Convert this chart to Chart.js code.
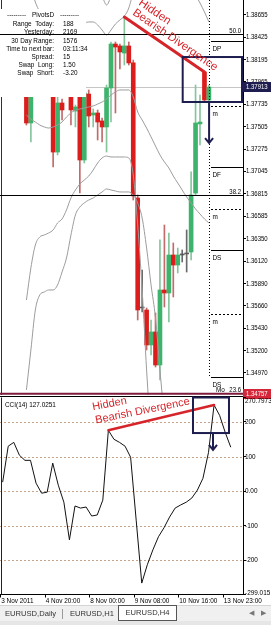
<!DOCTYPE html>
<html><head><meta charset="utf-8">
<script src="https://cdn.jsdelivr.net/npm/chart.js@4.4.1/dist/chart.umd.min.js"></script>
<style>
html,body{margin:0;padding:0;background:#fff;}
#wrap{position:relative;width:271px;height:625px;overflow:hidden;background:#fff;font-family:"Liberation Sans",Arial,sans-serif;}
#main{position:absolute;left:0;top:0;width:271px;height:400px;}
#cci{position:absolute;left:0;top:386px;width:271px;height:220px;}
#tabs{position:absolute;left:0;top:605px;width:271px;height:15px;background:#f0f0f0;border-top:1px solid #d4d4d4;}
.t{position:absolute;top:3px;font-size:7.6px;line-height:9px;color:#333;white-space:nowrap;}
.act{top:-1px;height:14px;line-height:14px;background:#fff;border:1px solid #555;text-align:center;}
.sep{position:absolute;top:3px;width:1px;height:10px;background:#9a9a9a;}
.arr{color:#777;font-family:"DejaVu Sans",sans-serif;font-size:7px;}
#status{position:absolute;left:0;top:621px;width:271px;height:4px;background:#e6e6e6;}
</style></head><body>
<div id="wrap">
<canvas id="main" width="271" height="400"></canvas>
<canvas id="cci" width="271" height="220"></canvas>
<div id="tabs">
 <div class="t" style="left:5px">EURUSD,Daily</div>
 <div class="sep" style="left:62px"></div>
 <div class="t" style="left:70px">EURUSD,H1</div>
 <div class="t act" style="left:118px;width:57px">EURUSD,H4</div>
 <div class="t arr" style="left:249px">◀</div>
 <div class="t arr" style="left:261px">▶</div>
</div>
<div id="status"></div>
</div>
<script>
// ---------------- DATA ----------------
const barTimes = ['3 Nov 12:00','3 Nov 16:00','3 Nov 20:00','4 Nov 00:00','4 Nov 04:00','4 Nov 08:00','4 Nov 12:00','4 Nov 16:00','4 Nov 20:00','6 Nov 23:00','7 Nov 00:00','7 Nov 04:00','7 Nov 08:00','7 Nov 12:00','7 Nov 16:00','7 Nov 20:00','8 Nov 00:00','8 Nov 04:00','8 Nov 08:00','8 Nov 12:00','8 Nov 16:00','8 Nov 20:00','9 Nov 00:00','9 Nov 04:00','9 Nov 08:00','9 Nov 12:00','9 Nov 16:00','9 Nov 20:00','10 Nov 00:00','10 Nov 04:00','10 Nov 08:00','10 Nov 12:00','10 Nov 16:00','10 Nov 20:00','11 Nov 00:00','11 Nov 04:00','11 Nov 08:00','11 Nov 12:00','11 Nov 16:00','11 Nov 20:00','13 Nov 23:00','14 Nov 00:00'];

const openP  = [1.37934,1.37543,1.37862,1.38088,1.38191,1.38037,1.37903,1.37244,1.37749,1.37841,1.37883,1.37666,1.37862,1.37162,1.37841,1.37625,1.37646,1.37564,1.37502,1.37903,1.38356,1.38336,1.38263,1.38336,1.38161,1.36771,1.35639,1.35618,1.35258,1.35392,1.35052,1.35824,1.35793,1.36184,1.36081,1.36184,1.36195,1.36215,1.36822,1.37533,1.38068,1.37780];
const highP  = [1.37986,1.37934,1.38171,1.38294,1.38243,1.38088,1.37944,1.37811,1.37790,1.37924,1.37924,1.37728,1.37903,1.37903,1.37883,1.37687,1.37677,1.37594,1.37934,1.38377,1.38377,1.38356,1.38634,1.38377,1.38191,1.36802,1.36030,1.35639,1.35515,1.35587,1.36339,1.36493,1.36411,1.36308,1.36256,1.36236,1.36442,1.37039,1.37934,1.37831,1.38068,1.37934];
const lowP   = [1.37522,1.37347,1.37831,1.38006,1.37934,1.37841,1.37090,1.37214,1.37574,1.37821,1.37522,1.37502,1.36822,1.37131,1.37502,1.37502,1.37368,1.37347,1.37244,1.37553,1.37646,1.38099,1.38140,1.38140,1.36750,1.35515,1.35598,1.35206,1.35155,1.35031,1.34898,1.35649,1.35495,1.35752,1.35999,1.36112,1.36009,1.36133,1.36802,1.37317,1.37759,1.37759];
const closeP = [1.37543,1.37883,1.38088,1.38191,1.38037,1.37903,1.37244,1.37749,1.37677,1.37883,1.37677,1.37708,1.37162,1.37852,1.37615,1.37646,1.37553,1.37502,1.37903,1.38356,1.38325,1.38274,1.38336,1.38161,1.36792,1.35618,1.35649,1.35258,1.35392,1.35052,1.35824,1.35793,1.36184,1.36081,1.36184,1.36195,1.36205,1.36802,1.37543,1.37553,1.37780,1.37913];

const bbMiddle = [1.37625,1.37584,1.37553,1.37522,1.37502,1.37491,1.37502,1.37522,1.37553,1.37605,1.37646,1.37677,1.37687,1.37697,1.37708,1.37718,1.37738,1.37759,1.37790,1.37831,1.37862,1.37883,1.37883,1.37883,1.37811,1.37656,1.37574,1.37491,1.37399,1.37306,1.37214,1.37142,1.37080,1.36997,1.36925,1.36853,1.36781,1.36720,1.36658,1.36606,1.36555,1.36514];
const bbUpperInner = [1.39118,1.38933,1.38788,1.38686,1.38624,1.38583,1.38583,1.38583,1.38583,1.38552,1.38521,1.38531,1.38552,1.38572,1.38583,1.38583,1.38552,1.38500,1.38449,1.38500,1.38562,1.38603,1.38644,1.38727,1.38912,1.39221,null,null,null,null,null,null,null,null,null,null,null,null,1.38860,1.38778,1.38686,1.38583];
const bbUpperOuter = [null,null,null,null,null,null,null,null,null,null,null,null,null,null,1.39015,1.38963,1.38933,1.38850,1.38758,1.38850,1.39015,null,null,null,null,null,null,null,null,null,null,null,null,null,null,null,null,null,null,null,null,null];
const bbLowerInner = [1.35721,1.36051,1.36287,1.36370,1.36390,1.36411,1.36442,1.36514,1.36555,1.36648,1.36771,1.36853,1.36915,1.36956,1.36997,1.37059,1.37131,1.37183,1.37203,1.37193,1.37193,1.37193,1.37193,1.37183,1.37008,1.36493,1.35824,1.35001,1.34280,null,null,null,null,null,null,null,null,null,null,null,null,null];
const bbLowerOuter = [1.34795,1.35206,1.35618,1.35773,1.35803,1.35824,1.35824,1.35876,1.36009,1.36153,1.36390,1.36596,1.36678,1.36720,1.36750,1.36771,1.36802,1.36833,1.36864,1.36853,1.36843,1.36833,1.36833,1.36833,1.36802,1.36720,1.36565,1.36256,1.35876,1.35536,1.35001,1.34486,null,null,null,null,null,null,null,null,null,null];

const cciValues = [26,130,141,104,89,89,23,-6,-3,81,17,-32,-141,-43,-49,-46,-72,-69,-26,176,150,141,130,98,-84,-266,-213,-170,-132,-106,-75,-49,-40,-32,-20,3,37,112,249,219,170,127.0251];

const priceTicks = [1.38655,1.38425,1.38195,1.37965,1.37735,1.37505,1.37275,1.37045,1.36815,1.36585,1.36350,1.36120,1.35890,1.35660,1.35430,1.35200,1.34970];
const priceTickLabels = ['1.38655','1.38425','1.38195','1.37965','1.37735','1.37505','1.37275','1.37045','1.36815','1.36585','1.36350','1.36120','1.35890','1.35660','1.35430','1.35200','1.34970'];
const cciTicks = [270.7973,200,100,0,-100,-200,-299.015];
const cciTickLabels = ['270.7973','200','100','0.00','-100','-200','-299.015'];
const cciLevels = [200,100,0,-100,-200];
const dateTickIdx = [0,8,16,24,32,40];
const dateTickLabels = ['3 Nov 2011','4 Nov 20:00','8 Nov 00:00','9 Nov 08:00','10 Nov 16:00','13 Nov 23:00'];

const fibPrices = [1.38459,1.36805,1.34757];
const fibLabels = ['50.0','38.2','23.6'];
const pivotPrices = [1.38387,1.37718,1.37090,1.36658,1.36236,1.35577,1.34929];
const pivotLabels = ['DP','m','DF','m','DS','m','DS'];
const pivotDashed = [false,true,false,true,false,true,false];
const bidPrice = 1.37913;
const markPrice = 1.34757;

const infoLabels = ['Range  Today:','Yesterday:','30 Day Range:','Time to next bar:','Spread:','Swap  Long:','Swap  Short:'];
const infoValues = ['188','2169','1576','03:11:34','15','1.50','-3.20'];

// divergence anchors: [bar index, value]
const divPriceFrom = [22, 1.38634], divPriceTo = [40, 1.38068];
const divCciFrom = [19, 176], divCciTo = [38, 249];

const viewMin = 1.34743, viewMax = 1.38809;
const cciMin = -299.015, cciMax = 270.7973;
const X_MIN = -0.48, X_MAX = 43.2;

// ---------------- STYLE ----------------
const SX = 0.8;
const FONT = '"Liberation Sans", Arial, sans-serif';
const RED = '#d6252a', NAVY = '#1d1d4f';
const BB = '#9c9c9c';

function drawText(ctx, s, x, y, o = {}) {
  ctx.save();
  ctx.font = (o.size || 8) + 'px ' + FONT;
  ctx.fillStyle = o.color || '#000';
  ctx.textAlign = o.align || 'left';
  ctx.textBaseline = o.base || 'middle';
  ctx.translate(x, y);
  if (o.rot) ctx.rotate(o.rot);
  ctx.scale(o.sx === undefined ? SX : o.sx, 1);
  ctx.fillText(s, 0, 0);
  ctx.restore();
}
function seg(ctx, x1, y1, x2, y2, color, w, dash) {
  ctx.save();
  ctx.strokeStyle = color; ctx.lineWidth = w || 1;
  ctx.setLineDash(dash || []);
  ctx.beginPath(); ctx.moveTo(x1, y1); ctx.lineTo(x2, y2); ctx.stroke();
  ctx.restore();
}
function crisp(v) { return Math.round(v) + 0.5; }
function arrow(ctx, x, y1, y2) {
  ctx.save();
  ctx.strokeStyle = NAVY; ctx.lineWidth = 2;
  ctx.beginPath(); ctx.moveTo(x, y1); ctx.lineTo(x, y2); ctx.stroke();
  ctx.beginPath(); ctx.moveTo(x - 4, y2 - 5); ctx.lineTo(x, y2); ctx.lineTo(x + 4, y2 - 5); ctx.stroke();
  ctx.restore();
}

const pts = arr => arr.map((v, i) => ({x: i, y: v}));
const bodies = openP.map((o, i) => ({x: i, y: [o, closeP[i]]}));
const wicks = lowP.map((l, i) => ({x: i, y: [l, highP[i]]}));
const kind = openP.map((o, i) => Math.abs(closeP[i] - o) < 0.00012 ? 'd' : (closeP[i] > o ? 'u' : 'r'));
const bodyColors = kind.map(k => k === 'd' ? '#5a5a5a' : (k === 'u' ? '#3db36b' : '#dd1c1c'));
const wickColors = kind.map(k => k === 'd' ? '#6a6a6a' : (k === 'u' ? '#86c59c' : '#c36a6a'));

const lineDs = (label, arr) => ({type: 'line', label, data: pts(arr), borderColor: BB, borderWidth: 1,
  pointRadius: 0, cubicInterpolationMode: 'monotone', spanGaps: false, order: 1});

// ---------------- MAIN OVERLAY ----------------
const mainOverlay = {
  id: 'mainOverlay',
  beforeDatasetsDraw(chart) {
    const {ctx, chartArea: a, scales: {y}} = chart;
    const yb = crisp(y.getPixelForValue(bidPrice));
    seg(ctx, a.left, yb, a.right, yb, '#c6c6c6', 1);
    seg(ctx, 1.5, a.top, 1.5, a.bottom, '#3a2a34', 1);
  },
  afterDatasetsDraw(chart) {
    const {ctx, chartArea: a, scales: {x, y}} = chart;
    // info panel
    ctx.fillStyle = '#fff'; ctx.fillRect(0, 9, 86, 88);
    drawText(ctx, '---------', 7, 15);
    drawText(ctx, 'PivotsD', 32, 15);
    drawText(ctx, '---------', 60, 15);
    const rowsY = [24, 32, 41, 48.5, 56.5, 64.5, 72.5];
    infoLabels.forEach((s, k) => {
      drawText(ctx, s, 54, rowsY[k], {align: 'right'});
      drawText(ctx, infoValues[k], 63, rowsY[k]);
    });
    // fibo lines
    fibPrices.forEach((p, k) => {
      const last = k === fibPrices.length - 1;
      const yy = last ? y.getPixelForValue(p) : crisp(y.getPixelForValue(p));
      seg(ctx, a.left, yy, a.right, yy, last ? '#7e1b3d' : '#000', last ? 2 : 1);
      drawText(ctx, fibLabels[k], 241, yy - 1.5, {align: 'right', base: 'alphabetic', size: 7.5});
    });
    drawText(ctx, 'Mo', 216, y.getPixelForValue(fibPrices[2]) - 1.5, {base: 'alphabetic', size: 8});
    // pivot markers
    ctx.save();
    ctx.beginPath(); ctx.rect(a.left, a.top, a.right - a.left, a.bottom - a.top); ctx.clip();
    const vx = crisp(x.getPixelForValue(41.05));
    seg(ctx, vx, a.top, vx, y.getPixelForValue(pivotPrices[pivotPrices.length - 1]), '#000', 1, [1, 2]);
    pivotPrices.forEach((p, k) => {
      const yy = crisp(y.getPixelForValue(p));
      seg(ctx, vx + 1.5, yy, a.right, yy, '#000', 1, pivotDashed[k] ? [2, 2] : []);
      drawText(ctx, pivotLabels[k], vx + 3, yy + 9, {base: 'alphabetic', size: 8});
    });
    ctx.restore();
    // divergence line
    const x1 = x.getPixelForValue(divPriceFrom[0]), y1 = y.getPixelForValue(divPriceFrom[1]);
    const x2 = x.getPixelForValue(divPriceTo[0]), y2 = y.getPixelForValue(divPriceTo[1]);
    ctx.save(); ctx.lineCap = 'round';
    seg(ctx, x1, y1, x2, y2, RED, 3);
    ctx.restore();
    const ang = Math.atan2(y2 - y1, x2 - x1);
    // box
    const bx1 = x.getPixelForValue(35.11), bx2 = a.right - 1;
    const by1 = y.getPixelForValue(1.38222), by2 = y.getPixelForValue(1.37759);
    ctx.save(); ctx.strokeStyle = NAVY; ctx.lineWidth = 2;
    ctx.strokeRect(bx1, by1, bx2 - bx1, by2 - by1); ctx.restore();
    arrow(ctx, x.getPixelForValue(41.04), by2, y.getPixelForValue(1.37337));
    drawText(ctx, 'Hidden', x.getPixelForValue(28.82), y.getPixelForValue(1.38685), {size: 11.5, color: RED, rot: ang, align: 'center', sx: 1});
    drawText(ctx, 'Bearish Divergence', x.getPixelForValue(33.40), y.getPixelForValue(1.38397), {size: 11.5, color: RED, rot: ang, align: 'center', sx: 1});
  },
  afterDraw(chart) {
    const {ctx, chartArea: a, scales: {y}} = chart;
    priceTicks.forEach((v, k) => drawText(ctx, priceTickLabels[k], a.right + 3, y.getPixelForValue(v), {size: 7.5}));
    const yb = y.getPixelForValue(bidPrice);
    ctx.fillStyle = NAVY; ctx.fillRect(a.right, Math.round(yb) - 5, 28, 10);
    drawText(ctx, bidPrice.toFixed(5), a.right + 3, yb, {size: 7.5, color: '#fff'});
    const ym = y.getPixelForValue(markPrice);
    ctx.fillStyle = '#d4283a'; ctx.fillRect(a.right, Math.round(ym) - 5, 28, 10);
    drawText(ctx, markPrice.toFixed(5), a.right + 3, ym, {size: 7.5, color: '#fff'});
  }
};

new Chart(document.getElementById('main'), {
  type: 'bar',
  data: {
    labels: barTimes,
    datasets: [
      lineDs('BB middle', bbMiddle),
      lineDs('BB upper inner', bbUpperInner),
      lineDs('BB upper outer', bbUpperOuter),
      lineDs('BB lower inner', bbLowerInner),
      lineDs('BB lower outer', bbLowerOuter),
      {type: 'bar', label: 'body', data: bodies, backgroundColor: bodyColors, barThickness: 4, grouped: false, order: 2},
      {type: 'bar', label: 'wick', data: wicks, backgroundColor: wickColors, barThickness: 1, grouped: false, order: 3}
    ]
  },
  options: {
    responsive: false, animation: false, devicePixelRatio: 1,
    layout: {padding: {left: 0, right: 0, top: 0, bottom: 5}},
    plugins: {legend: {display: false}, tooltip: {enabled: false}},
    scales: {
      x: {type: 'linear', min: X_MIN, max: X_MAX, display: false},
      y: {
        type: 'linear', position: 'right', min: viewMin, max: viewMax,
        afterBuildTicks: s => { s.ticks = priceTicks.map(v => ({value: v})); },
        afterFit: s => { s.width = 28; s.paddingTop = 0; s.paddingBottom = 0; },
        ticks: {display: false, autoSkip: false},
        grid: {display: true, drawOnChartArea: false, drawTicks: true, tickLength: 3, color: '#000', lineWidth: 1},
        border: {display: true, color: '#000', width: 1}
      }
    }
  },
  plugins: [mainOverlay]
});

// ---------------- CCI ----------------
const cciOverlay = {
  id: 'cciOverlay',
  beforeDatasetsDraw(chart) {
    const {ctx, chartArea: a, scales: {y}} = chart;
    cciLevels.forEach(v => {
      const yy = crisp(y.getPixelForValue(v));
      seg(ctx, a.left, yy, a.right, yy, '#c7a58c', 1, [2, 2]);
    });
  },
  afterDatasetsDraw(chart) {
    const {ctx, chartArea: a, scales: {x, y}} = chart;
    seg(ctx, 0, Math.floor(a.top) - 0.5, a.right, Math.floor(a.top) - 0.5, '#000', 1);
    seg(ctx, 1.5, a.top, 1.5, a.bottom, '#222', 1);
    const x1 = x.getPixelForValue(divCciFrom[0]), y1 = y.getPixelForValue(divCciFrom[1]);
    const x2 = x.getPixelForValue(divCciTo[0]), y2 = y.getPixelForValue(divCciTo[1]);
    ctx.save(); ctx.lineCap = 'round';
    seg(ctx, x1, y1, x2, y2, RED, 2.5);
    ctx.restore();
    const ang = Math.atan2(y2 - y1, x2 - x1);
    const bx1 = x.getPixelForValue(34.21), bx2 = x.getPixelForValue(40.68);
    const by1 = a.top, by2 = y.getPixelForValue(168);
    ctx.save(); ctx.strokeStyle = NAVY; ctx.lineWidth = 2;
    ctx.strokeRect(bx1, by1, bx2 - bx1, by2 - by1); ctx.restore();
    arrow(ctx, x.getPixelForValue(37.81), by2, y.getPixelForValue(119));
    drawText(ctx, 'Hidden', x.getPixelForValue(19.22), y.getPixelForValue(252), {size: 11, color: RED, rot: ang * 0.8, align: 'center', sx: 1});
    drawText(ctx, 'Bearish Divergence', x.getPixelForValue(25.14), y.getPixelForValue(232), {size: 11, color: RED, rot: ang * 0.85, align: 'center', sx: 1});
    drawText(ctx, 'CCI(14) ' + cciValues[cciValues.length - 1].toFixed(4), 5, a.top + 7.5, {size: 8});
  },
  afterDraw(chart) {
    const {ctx, chartArea: a, scales: {x, y}} = chart;
    cciTicks.forEach((v, k) => {
      const yy = Math.min(Math.max(y.getPixelForValue(v), a.top + 3.5), a.bottom - 2);
      drawText(ctx, cciTickLabels[k], a.right + 2, yy, {size: 8});
    });
    dateTickIdx.forEach((i, k) => {
      drawText(ctx, dateTickLabels[k], x.getPixelForValue(i - 0.35) + 0.5, a.bottom + 6, {size: 8});
    });
  }
};

new Chart(document.getElementById('cci'), {
  type: 'line',
  data: {
    labels: barTimes,
    datasets: [{label: 'CCI(14)', data: pts(cciValues), borderColor: '#111', borderWidth: 1, pointRadius: 0, tension: 0}]
  },
  options: {
    responsive: false, animation: false, devicePixelRatio: 1,
    layout: {padding: {left: 0, right: 0, top: 11.5, bottom: 0}},
    plugins: {legend: {display: false}, tooltip: {enabled: false}},
    scales: {
      x: {
        type: 'linear', min: X_MIN, max: X_MAX,
        afterBuildTicks: s => { s.ticks = dateTickIdx.map(i => ({value: i - 0.35})); },
        afterFit: s => { s.height = 11.5; s.paddingLeft = 0; s.paddingRight = 0; },
        ticks: {display: false, autoSkip: false},
        grid: {display: true, drawOnChartArea: false, drawTicks: true, tickLength: 3, color: '#000'},
        border: {display: true, color: '#000', width: 1}
      },
      y: {
        type: 'linear', position: 'right', min: cciMin, max: cciMax,
        afterBuildTicks: s => { s.ticks = cciTicks.map(v => ({value: v})); },
        afterFit: s => { s.width = 28; s.paddingTop = 0; s.paddingBottom = 0; },
        ticks: {display: false, autoSkip: false},
        grid: {display: true, drawOnChartArea: false, drawTicks: true, tickLength: 3, color: '#000'},
        border: {display: true, color: '#000', width: 1}
      }
    }
  },
  plugins: [cciOverlay]
});
</script>
</body></html>
